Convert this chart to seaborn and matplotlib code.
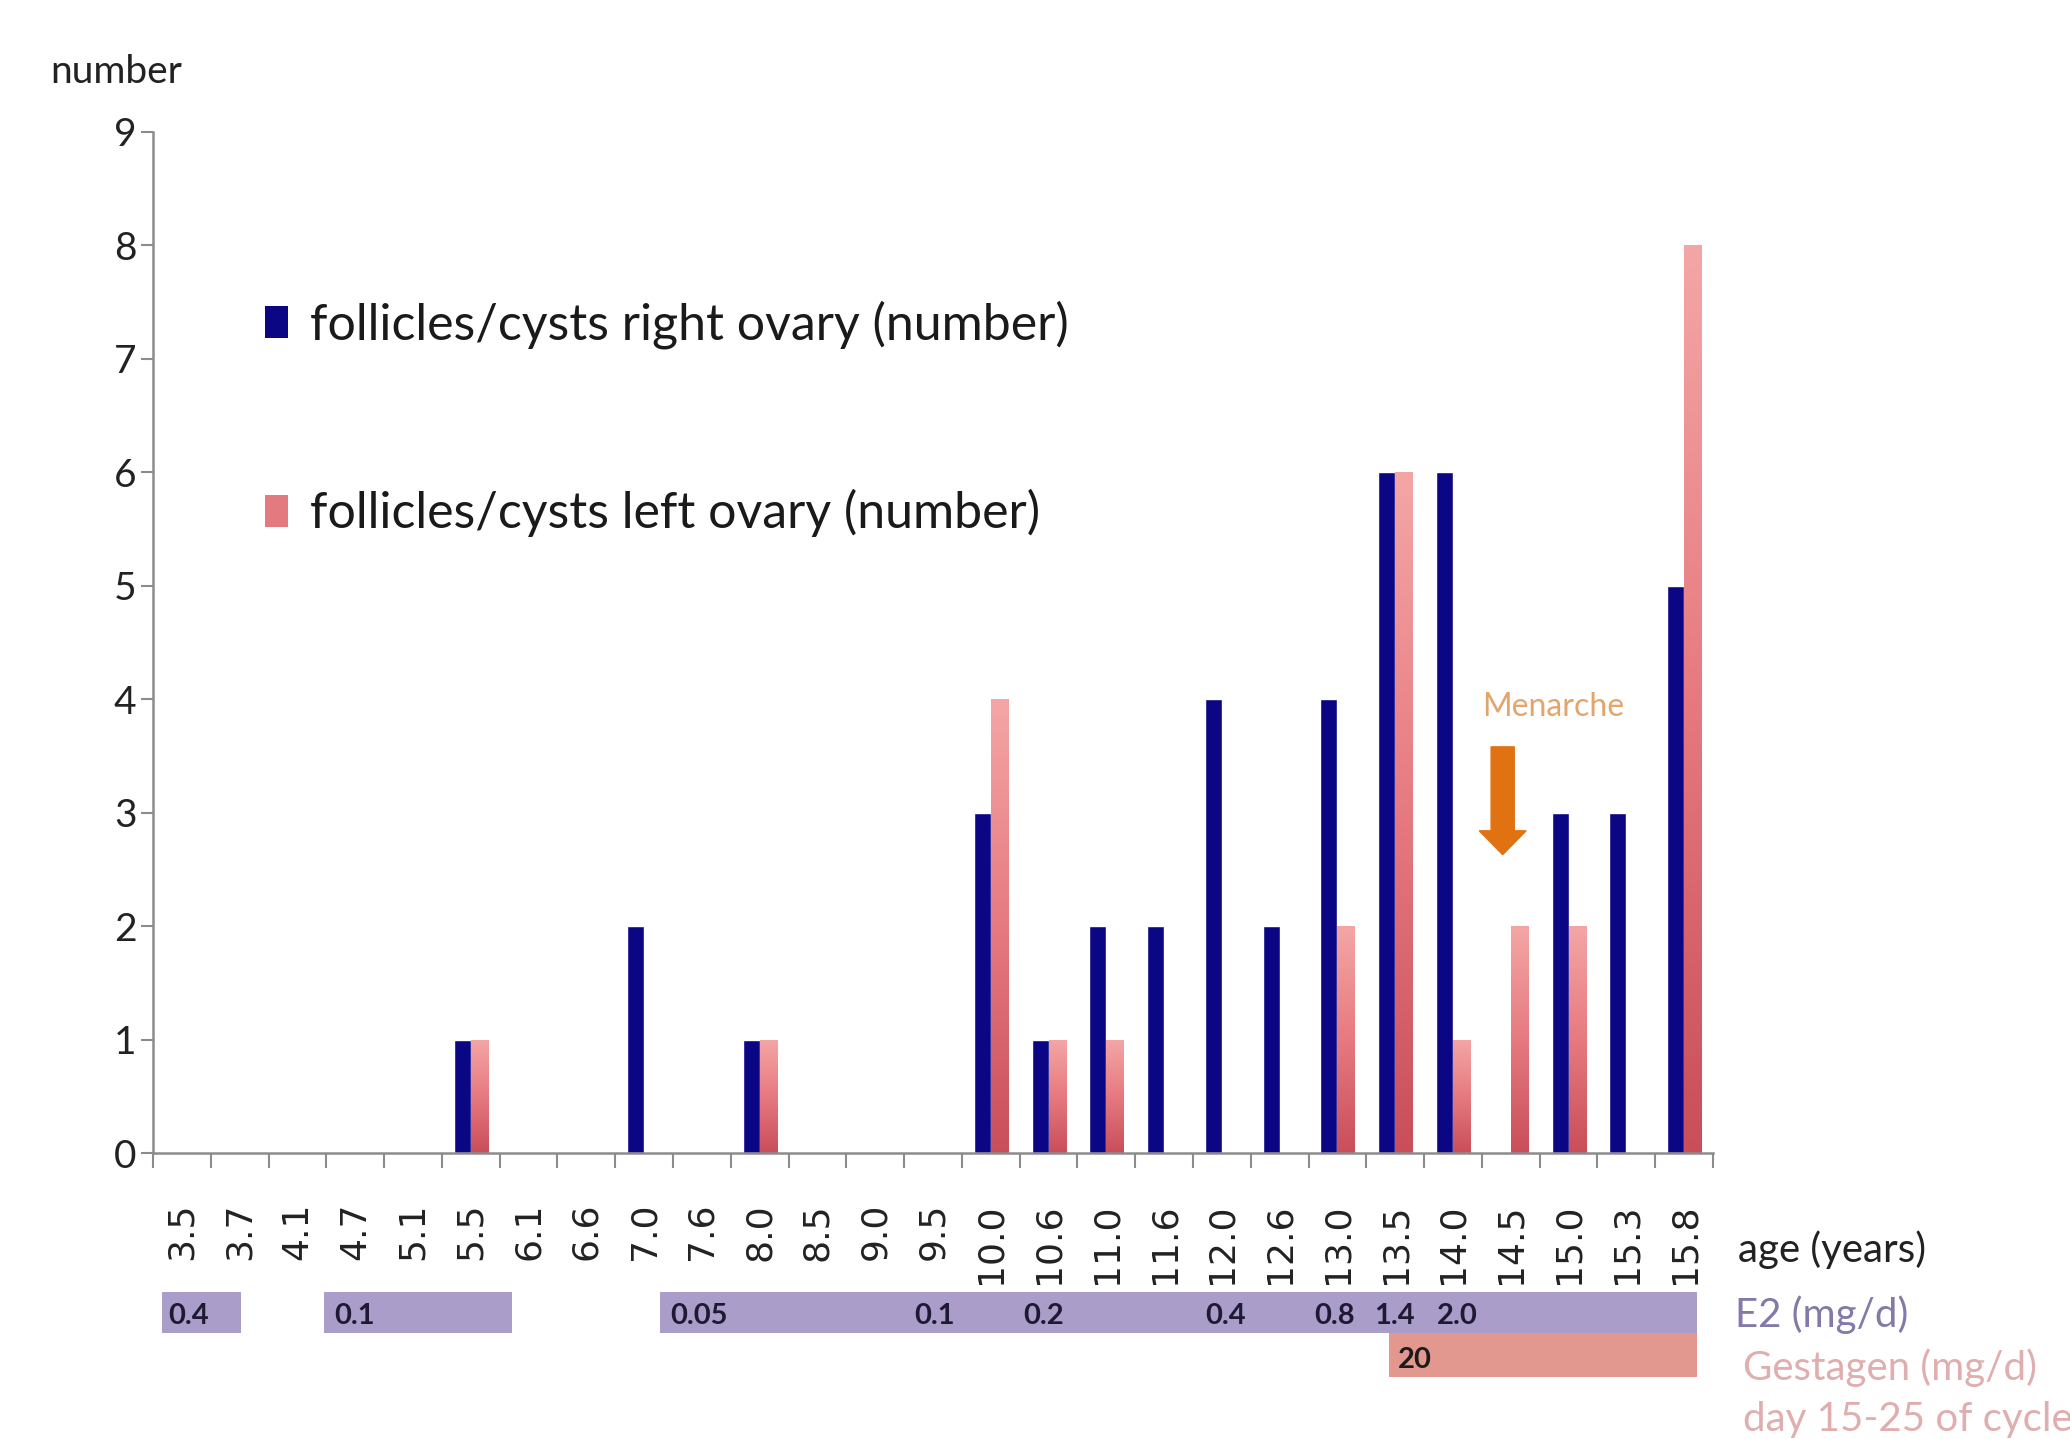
import numpy as np
import pandas as pd
import matplotlib
matplotlib.use("Agg")
import matplotlib.pyplot as plt
import seaborn as sns
from matplotlib.patches import Rectangle, Patch
from matplotlib.colors import LinearSegmentedColormap
from matplotlib.transforms import blended_transform_factory

# ---- data ----
ages = ["3.5", "3.7", "4.1", "4.7", "5.1", "5.5", "6.1", "6.6", "7.0", "7.6",
        "8.0", "8.5", "9.0", "9.5", "10.0", "10.6", "11.0", "11.6", "12.0",
        "12.6", "13.0", "13.5", "14.0", "14.5", "15.0", "15.3", "15.8"]
right_ovary = [0, 0, 0, 0, 0, 1, 0, 0, 2, 0, 1, 0, 0, 0, 3, 1, 2, 2, 4, 2, 4, 6, 6, 0, 3, 3, 5]
left_ovary = [0, 0, 0, 0, 0, 1, 0, 0, 0, 0, 1, 0, 0, 0, 4, 1, 1, 0, 0, 0, 2, 6, 1, 2, 2, 0, 8]

series_names = ["follicles/cysts right ovary (number)",
                "follicles/cysts left ovary (number)"]

# dosing schedule (category-axis spans) and dose labels
e2_spans = [(-0.34, 1.02), (2.46, 5.71), (8.27, 26.22)]
e2_labels = ["0.4", "0.1", "0.05", "0.1", "0.2", "0.4", "0.8", "1.4", "2.0"]
e2_label_pos = [-0.24, 2.63, 8.46, 12.67, 14.56, 17.72, 19.59, 20.63, 21.72]
gestagen_spans = [(20.89, 26.22)]
gestagen_labels = ["20"]
gestagen_label_pos = [21.05]

df = pd.DataFrame({
    "age": ages * 2,
    "series": [series_names[0]] * len(ages) + [series_names[1]] * len(ages),
    "count": right_ovary + left_ovary,
})

# ---- style ----
sns.set_style("ticks")
plt.rcParams["font.family"] = ["Lato", "DejaVu Sans"]

BLUE = "#0b0683"
PINK = "#e27a80"
AXIS_GREY = "#8c8c8c"

fig = plt.figure(figsize=(20.7, 14.39), dpi=100)
ax = fig.add_axes([153 / 2070, 1 - 1153 / 1439, 1560 / 2070, 1021 / 1439])

sns.barplot(data=df, x="age", y="count", hue="series", order=ages,
            hue_order=series_names, palette=[BLUE, PINK], width=0.59,
            saturation=1, ax=ax, legend=False)

# vertical gradient on the left-ovary bars
cmap = LinearSegmentedColormap.from_list("pinkgrad", ["#c94e5a", "#e67a80", "#f4a6a6"])
grad = np.linspace(0, 1, 256).reshape(-1, 1)
for bar in ax.containers[1]:
    h = bar.get_height()
    if h <= 0:
        continue
    x0, y0, w = bar.get_x(), bar.get_y(), bar.get_width()
    im = ax.imshow(grad, extent=[x0, x0 + w, y0, y0 + h], origin="lower",
                   cmap=cmap, aspect="auto", zorder=bar.get_zorder(),
                   interpolation="bilinear")
    im.set_clip_path(bar)
    bar.set_facecolor("none")
    bar.set_edgecolor("none")

ax.set_xlim(-0.5, len(ages) - 0.5)
ax.set_ylim(0, 9)
ax.set_yticks(range(0, 10))
ax.set_xlabel("")
ax.set_ylabel("")

sns.despine(ax=ax)
for side in ("left", "bottom"):
    ax.spines[side].set_color(AXIS_GREY)
    ax.spines[side].set_linewidth(1.8)

# category boundaries carry the tick marks, centres carry the labels
ax.set_xticks(np.arange(-0.5, len(ages)), minor=True)
ax.tick_params(axis="x", which="minor", length=11, width=1.5, color=AXIS_GREY)
ax.tick_params(axis="x", which="major", length=0, pad=36)
ax.set_xticks(range(len(ages)))
ax.set_xticklabels(ages, rotation=90, fontsize=26, family="DejaVu Sans",
                   color="#222222", va="top")
ax.tick_params(axis="y", length=9, width=1.5, color=AXIS_GREY, pad=3,
               labelsize=28, labelcolor="#222222")

# legend
handles = [Patch(facecolor=BLUE, edgecolor="none"),
           Patch(facecolor=PINK, edgecolor="none")]
ax.legend(handles, series_names, loc="upper left", bbox_to_anchor=(0.072, 0.835),
          frameon=False, fontsize=36, handlelength=0.45, handleheight=0.6,
          handletextpad=0.45, labelspacing=2.8, borderpad=0, borderaxespad=0,
          labelcolor="#1a1a1a")

# menarche marker
ax.arrow(22.86, 3.58, 0, -0.95, width=0.40, head_width=0.81, head_length=0.21,
         length_includes_head=True, color="#e07212", zorder=5)
ax.text(23.73, 3.93, "Menarche", fontsize=23, color="#e3a56c",
        ha="center", va="center")

# axis captions
fig.text(50 / 2070, 1 - 72 / 1439, "number", fontsize=28, color="#222222",
         ha="left", va="center")
fig.text(1738 / 2070, 1 - 1250 / 1439, "age (years)", fontsize=29,
         color="#222222", ha="left", va="center")
fig.text(1735 / 2070, 1 - 1315 / 1439, "E2 (mg/d)", fontsize=29,
         color="#8479a8", ha="left", va="center")
fig.text(1743 / 2070, 1 - 1368 / 1439, "Gestagen (mg/d)", fontsize=29,
         color="#e0aeae", ha="left", va="center")
fig.text(1743 / 2070, 1 - 1420 / 1439, "day 15-25 of cycle", fontsize=29,
         color="#e0aeae", ha="left", va="center")

# dosing bands under the axis
trans = blended_transform_factory(ax.transData, fig.transFigure)
E2_COLOR = "#aa9dc9"
GEST_COLOR = "#e2978f"
e2_y0, e2_y1 = 1 - 1333 / 1439, 1 - 1292 / 1439
g_y0, g_y1 = 1 - 1377 / 1439, 1 - 1333 / 1439
for s, e in e2_spans:
    fig.add_artist(Rectangle((s, e2_y0), e - s, e2_y1 - e2_y0, transform=trans,
                             facecolor=E2_COLOR, edgecolor="none"))
for s, e in gestagen_spans:
    fig.add_artist(Rectangle((s, g_y0), e - s, g_y1 - g_y0, transform=trans,
                             facecolor=GEST_COLOR, edgecolor="none"))
for lab, x in zip(e2_labels, e2_label_pos):
    fig.text(x, 1 - 1316 / 1439, lab, transform=trans, fontsize=21,
             fontweight="bold", color="#1e1a33", ha="left", va="center")
for lab, x in zip(gestagen_labels, gestagen_label_pos):
    fig.text(x, 1 - 1360 / 1439, lab, transform=trans, fontsize=21,
             fontweight="bold", color="#1e1a1a", ha="left", va="center")

fig.savefig("out.png", dpi=100, facecolor="white")
